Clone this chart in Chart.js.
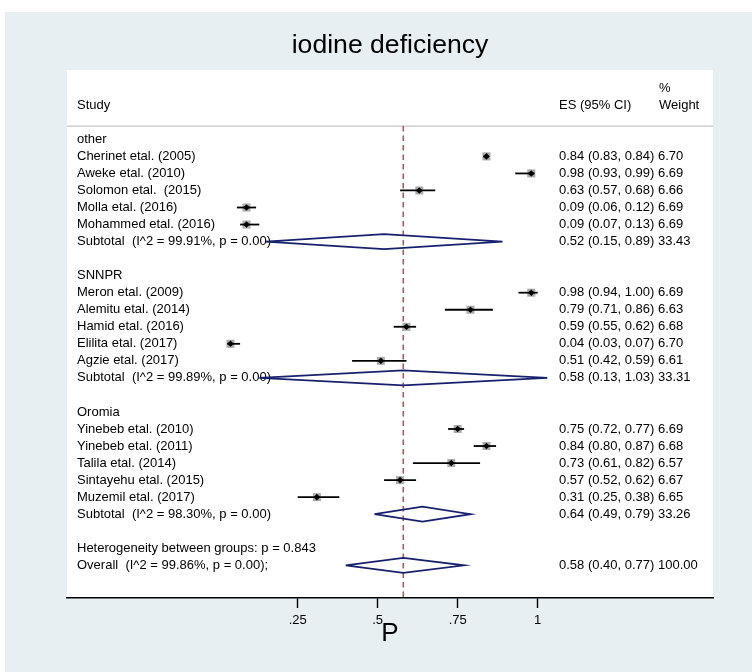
<!DOCTYPE html>
<html>
<head>
<meta charset="utf-8">
<script src="https://cdn.jsdelivr.net/npm/chart.js@4.4.0/dist/chart.umd.min.js"></script>
<style>
html,body{margin:0;padding:0;background:#fff;}
canvas{display:block;}
</style>
</head>
<body>
<canvas id="c" width="752" height="672"></canvas>
<script>
// ---------- data ----------
const groupNames = ['other', 'SNNPR', 'Oromia'];
const studyLabels = [
  'Cherinet etal. (2005)', 'Aweke etal. (2010)', 'Solomon etal.  (2015)', 'Molla etal. (2016)', 'Mohammed etal. (2016)',
  'Meron etal. (2009)', 'Alemitu etal. (2014)', 'Hamid etal. (2016)', 'Elilita etal. (2017)', 'Agzie etal. (2017)',
  'Yinebeb etal. (2010)', 'Yinebeb etal. (2011)', 'Talila etal. (2014)', 'Sintayehu etal. (2015)', 'Muzemil etal. (2017)'
];
const studyGroup = [0,0,0,0,0, 1,1,1,1,1, 2,2,2,2,2];
const studyES = [0.84, 0.98, 0.63, 0.09, 0.09, 0.98, 0.79, 0.59, 0.04, 0.51, 0.75, 0.84, 0.73, 0.57, 0.31];
const studyLo = [0.83, 0.93, 0.57, 0.06, 0.07, 0.94, 0.71, 0.55, 0.03, 0.42, 0.72, 0.80, 0.61, 0.52, 0.25];
const studyHi = [0.84, 0.99, 0.68, 0.12, 0.13, 1.00, 0.86, 0.62, 0.07, 0.59, 0.77, 0.87, 0.82, 0.62, 0.38];
const studyWeight = [6.70, 6.69, 6.66, 6.69, 6.69, 6.69, 6.63, 6.68, 6.70, 6.61, 6.69, 6.68, 6.57, 6.67, 6.65];

const subtotalLabels = [
  'Subtotal  (I^2 = 99.91%, p = 0.00)',
  'Subtotal  (I^2 = 99.89%, p = 0.00)',
  'Subtotal  (I^2 = 98.30%, p = 0.00)'
];
const subtotalES = [0.52, 0.58, 0.64];
const subtotalLo = [0.15, 0.13, 0.49];
const subtotalHi = [0.89, 1.03, 0.79];
const subtotalWeight = [33.43, 33.31, 33.26];

const heterogeneityLabel = 'Heterogeneity between groups: p = 0.843';
const overallLabel = 'Overall  (I^2 = 99.86%, p = 0.00);';
const overallES = [0.58];
const overallLo = [0.40];
const overallHi = [0.77];
const overallWeight = [100.00];

const tickValues = [0.25, 0.5, 0.75, 1];
const tickLabels = ['.25', '.5', '.75', '1'];
const headerLabels = ['Study', 'ES (95% CI)', '%', 'Weight'];
const chartTitle = 'iodine deficiency';
const axisTitle = 'P';

// ---------- row layout (built from data) ----------
const rows = [];
let r = 0;
groupNames.forEach((g, gi) => {
  rows.push({type: 'group', label: g, row: r++});
  studyLabels.forEach((s, i) => {
    if (studyGroup[i] === gi) rows.push({type: 'study', label: s, es: studyES[i], lo: studyLo[i], hi: studyHi[i], w: studyWeight[i], row: r++});
  });
  rows.push({type: 'diamond', label: subtotalLabels[gi], es: subtotalES[gi], lo: subtotalLo[gi], hi: subtotalHi[gi], w: subtotalWeight[gi], row: r++});
  r++;
});
rows.push({type: 'text', label: heterogeneityLabel, row: r++});
rows.push({type: 'diamond', label: overallLabel, es: overallES[0], lo: overallLo[0], hi: overallHi[0], w: overallWeight[0], row: r++});

const studies = rows.filter(d => d.type === 'study');
const diamonds = rows.filter(d => d.type === 'diamond');

const FONT = '"Liberation Sans", Arial, Helvetica, sans-serif';
const NAVY = '#17206e';
const ROW_TOP = -4.07, ROW_BOTTOM = 26.92, SEP_ROW = -0.78, DIAMOND_H = 0.44;

const datasets = [];
// reference line at overall estimate
datasets.push({
  data: [{x: overallES[0], y: SEP_ROW}, {x: overallES[0], y: ROW_BOTTOM}],
  showLine: true, borderColor: '#a9585f', borderWidth: 1.6, borderDash: [5.5, 4],
  pointRadius: 0, order: 10
});
// CI lines
studies.forEach(d => {
  datasets.push({
    data: [{x: d.lo, y: d.row}, {x: d.hi, y: d.row}],
    showLine: true, borderColor: '#000', borderWidth: 1.8, pointRadius: 0, order: 4
  });
});
// weight squares
datasets.push({
  data: studies.map(d => ({x: d.es, y: d.row})),
  pointStyle: 'rect', backgroundColor: '#ababab', borderWidth: 0,
  pointRadius: studies.map(d => 2.2 * Math.sqrt(d.w)), order: 5
});
// point estimates
datasets.push({
  data: studies.map(d => ({x: d.es, y: d.row})),
  pointStyle: 'rectRot', backgroundColor: '#000', borderWidth: 0, pointRadius: 3.3, order: 1
});
// diamonds
diamonds.forEach(d => {
  datasets.push({
    data: [{x: d.lo, y: d.row}, {x: d.es, y: d.row - DIAMOND_H}, {x: d.hi, y: d.row}, {x: d.es, y: d.row + DIAMOND_H}, {x: d.lo, y: d.row}],
    showLine: true, borderColor: NAVY, borderWidth: 1.8, pointRadius: 0, fill: false, tension: 0, order: 2
  });
});

const bgPlugin = {
  id: 'bg',
  beforeDraw(chart) {
    const {ctx, chartArea: a} = chart;
    ctx.save();
    ctx.fillStyle = '#fff';
    ctx.fillRect(0, 0, chart.width, chart.height);
    ctx.fillStyle = '#e8eff2';
    ctx.fillRect(5, 12, chart.width - 5, chart.height - 12);
    ctx.fillStyle = '#fff';
    ctx.fillRect(a.left, a.top, a.right - a.left, a.bottom - a.top);
    ctx.restore();
  }
};

const textPlugin = {
  id: 'texts',
  beforeDatasetsDraw(chart) {
    const {ctx, chartArea: a, scales: {y}} = chart;
    const xStudy = a.left + 10, xES = a.left + 492, xW = a.left + 592;
    ctx.save();
    // separator
    ctx.strokeStyle = '#c4c4c4';
    ctx.lineWidth = 1.2;
    ctx.beginPath();
    const sy = y.getPixelForValue(SEP_ROW);
    ctx.moveTo(a.left, sy); ctx.lineTo(a.right, sy); ctx.stroke();

    ctx.fillStyle = '#000';
    ctx.font = '13px ' + FONT;
    ctx.textBaseline = 'middle';
    ctx.textAlign = 'left';
    ctx.fillText(headerLabels[0], xStudy, y.getPixelForValue(-2));
    ctx.fillText(headerLabels[1], xES, y.getPixelForValue(-2));
    ctx.fillText(headerLabels[2], xW, y.getPixelForValue(-3));
    ctx.fillText(headerLabels[3], xW, y.getPixelForValue(-2));
    rows.forEach(d => {
      const py = y.getPixelForValue(d.row);
      ctx.fillText(d.label, xStudy, py);
      if (d.es !== undefined) {
        ctx.fillText(d.es.toFixed(2) + ' (' + d.lo.toFixed(2) + ', ' + d.hi.toFixed(2) + ') ' + d.w.toFixed(2), xES, py);
      }
    });
    ctx.restore();
  }
};

new Chart(document.getElementById('c'), {
  type: 'scatter',
  data: {datasets},
  options: {
    responsive: false,
    animation: false,
    events: [],
    layout: {padding: {left: 67, right: 39, top: 0, bottom: 0}},
    plugins: {
      legend: {display: false},
      tooltip: {enabled: false},
      title: {
        display: true, text: chartTitle, color: '#000', fullSize: false,
        font: {family: FONT, size: 26.6, weight: 'normal', lineHeight: 1.2},
        padding: {top: 30, bottom: 8.1}
      }
    },
    scales: {
      x: {
        type: 'linear', position: 'bottom', min: -0.471, max: 1.548,
        afterBuildTicks: s => { s.ticks = tickValues.map(v => ({value: v})); },
        afterFit: s => { s.height = 74; },
        ticks: {
          autoSkip: false, maxRotation: 0, padding: 5, color: '#000',
          font: {family: FONT, size: 13},
          callback: v => { const i = tickValues.indexOf(v); return i >= 0 ? tickLabels[i] : ''; }
        },
        grid: {drawOnChartArea: false, drawTicks: true, tickLength: 10, color: '#000', tickWidth: 1.4},
        border: {display: true, color: '#000', width: 1.4},
        title: {display: true, text: axisTitle, color: '#000', font: {family: FONT, size: 26, lineHeight: 1.2}, padding: {top: 0, bottom: 22.8}}
      },
      y: {
        type: 'linear', display: false, reverse: true, min: ROW_TOP, max: ROW_BOTTOM
      }
    }
  },
  plugins: [bgPlugin, textPlugin]
});
</script>
</body>
</html>
